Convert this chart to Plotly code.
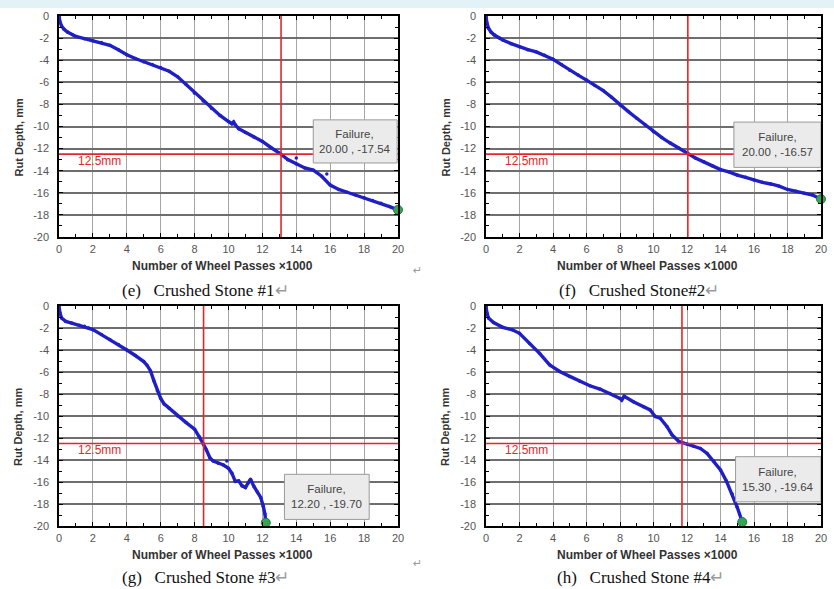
import plotly.graph_objects as go

# ---------------- data ----------------
x1 = [0, 0.05, 0.15, 0.3, 0.5, 0.8, 1, 1.5, 2, 2.5, 3, 3.5, 4, 4.5, 5, 5.5, 6, 6.5, 7, 7.5, 8, 8.5, 9, 9.5,
      10, 10.2, 10.3, 10.4, 10.6, 11, 11.5, 12, 12.5, 13, 13.5, 14, 14.5, 15, 15.5, 16, 16.5, 17, 17.5, 18,
      18.5, 19, 19.5, 20]
y1 = [0, -0.5, -0.9, -1.2, -1.45, -1.7, -1.85, -2.05, -2.23, -2.4, -2.65, -3.05, -3.5, -3.85, -4.13, -4.4,
      -4.65, -5.0, -5.5, -6.2, -7.0, -7.7, -8.36, -9.0, -9.55, -9.75, -9.6, -9.85, -10.2, -10.55, -10.95,
      -11.35, -11.9, -12.4, -13.0, -13.4, -13.75, -13.95, -14.5, -15.3, -15.7, -15.95, -16.2, -16.45, -16.7,
      -16.95, -17.25, -17.54]
out1_x = [14.0, 15.8]
out1_y = [-12.85, -14.3]

x2 = [0, 0.05, 0.15, 0.3, 0.5, 0.8, 1, 1.5, 2, 2.5, 3, 3.5, 4, 4.5, 5, 5.5, 6, 6.5, 7, 7.5, 8, 8.5, 9, 9.5,
      10, 10.5, 11, 11.5, 12, 12.5, 13, 13.5, 14, 14.5, 15, 15.5, 16, 16.5, 17, 17.5, 18, 18.5, 19, 19.5, 20]
y2 = [0, -0.6, -1.1, -1.45, -1.72, -2.0, -2.17, -2.5, -2.78, -3.05, -3.25, -3.55, -3.92, -4.4, -4.9, -5.35,
      -5.8, -6.3, -6.75, -7.35, -8.05, -8.65, -9.25, -9.85, -10.47, -11.0, -11.5, -11.95, -12.43, -12.85,
      -13.2, -13.55, -13.9, -14.1, -14.4, -14.6, -14.85, -15.05, -15.2, -15.4, -15.7, -15.85, -16.05, -16.2,
      -16.57]

x3 = [0, 0.05, 0.15, 0.4, 0.75, 1.2, 1.5, 1.75, 2, 2.5, 3, 3.5, 4, 4.5, 5, 5.2, 5.4, 5.6, 5.8, 6.0, 6.2, 6.5,
      7.0, 7.5, 8.0, 8.3, 8.5, 8.7, 8.9, 9.1, 9.4, 9.7, 10.0, 10.2, 10.4, 10.6, 10.8, 11.0, 11.15, 11.3,
      11.5, 11.7, 11.9, 12.05, 12.15, 12.2]
y3 = [0, -0.6, -1.1, -1.4, -1.55, -1.75, -1.85, -2.0, -2.15, -2.6, -3.05, -3.5, -4.0, -4.5, -5.05, -5.4, -5.9,
      -6.8, -7.7, -8.4, -8.9, -9.3, -10.0, -10.6, -11.2, -11.9, -12.5, -13.1, -13.8, -14.1, -14.3, -14.45,
      -14.75, -15.2, -15.95, -15.9, -16.35, -16.5, -16.1, -15.75, -16.4, -16.9, -17.4, -18.2, -18.9, -19.7]
out3_x = [9.9]
out3_y = [-14.1]

x4 = [0, 0.05, 0.15, 0.45, 1.0, 1.6, 2.0, 2.6, 3.2, 3.8, 4.4, 5.0, 5.6, 6.2, 6.8, 7.4, 8.0, 8.1, 8.25, 8.8,
      9.4, 9.8, 10.1, 10.4, 10.8, 11.1, 11.5, 12.0, 12.4, 12.8, 13.2, 13.6, 14.0, 14.35, 14.7, 15.0, 15.3]
y4 = [0, -0.6, -1.1, -1.5, -1.94, -2.18, -2.48, -3.4, -4.3, -5.35, -5.95, -6.4, -6.85, -7.25, -7.55, -7.95,
      -8.4, -8.55, -8.2, -8.7, -9.15, -9.45, -10.05, -10.2, -10.95, -11.7, -12.3, -12.55, -12.75, -12.95,
      -13.4, -14.1, -14.9, -15.9, -17.1, -18.3, -19.64]

failure_x = [20.00, 20.00, 12.20, 15.30]
failure_y = [-17.54, -16.57, -19.70, -19.64]
crossing_x = [13.1, 12.05, 8.53, 11.7]
threshold = -12.5
captions = ["(e)\u00a0\u00a0\u00a0Crushed Stone #1", "(f)\u00a0\u00a0\u00a0Crushed Stone#2",
            "(g)\u00a0\u00a0\u00a0Crushed Stone #3", "(h)\u00a0\u00a0\u00a0Crushed Stone #4"]
x_ticks = [0, 2, 4, 6, 8, 10, 12, 14, 16, 18, 20]
x_tick_labels = ["0", "2", "4", "6", "8", "10", "12", "14", "16", "18", "20"]
y_ticks = [0, -2, -4, -6, -8, -10, -12, -14, -16, -18, -20]
y_tick_labels = ["0", "-2", "-4", "-6", "-8", "-10", "-12", "-14", "-16", "-18", "-20"]
# failure label boxes in data units: x0, x1, y0, y1
boxes = [(15.0, 19.95, -13.3, -9.4), (14.8, 20.0, -13.7, -9.6), (13.3, 18.3, -19.4, -15.3),
         (14.9, 20.0, -17.8, -13.7)]

series = [(x1, y1), (x2, y2), (x3, y3), (x4, y4)]
outliers = [(out1_x, out1_y), ([], []), (out3_x, out3_y), ([], [])]

W, H = 834, 589
# plot areas in pixels (left, right, top, bottom)
areas = [(59, 398, 16, 237), (486, 821, 16, 237), (59, 398, 306, 526), (486, 821, 306, 526)]

BLUE = "#1f1fc4"
RED = "#e3262b"
GREEN = "#35a55a"
AX_FONT = "Arial, Liberation Sans, sans-serif"

fig = go.Figure()
layout = dict(width=W, height=H, margin=dict(l=0, r=0, t=0, b=0, autoexpand=False),
              paper_bgcolor="white", plot_bgcolor="white", showlegend=False)
shapes = []
annotations = []


def paper_note(px, py, text, font, **kw):
    d = dict(xref="paper", yref="paper", x=px / W, y=1 - py / H, text=text, showarrow=False,
             xanchor="center", yanchor="middle", font=font)
    d.update(kw)
    return d


# light blue band at top
shapes.append(dict(type="rect", xref="paper", yref="paper", x0=0, x1=1, y0=1 - 8 / H, y1=1,
                   fillcolor="#e3f2f7", line=dict(width=0), layer="below"))

for i, ((xs, ys), (ox, oy), (l, r, t, b)) in enumerate(zip(series, outliers, areas)):
    n = "" if i == 0 else str(i + 1)
    xa, ya = "x" + n, "y" + n
    layout["xaxis" + n] = dict(
        domain=[l / W, r / W], anchor=ya, range=[0, 20], tickvals=x_ticks, ticktext=x_tick_labels,
        automargin=False, showgrid=True, gridcolor="#a6a6a6", gridwidth=1, zeroline=False,
        showline=True, linecolor="black", linewidth=1.5, mirror="ticks",
        ticks="inside", ticklen=4, tickcolor="black",
        minor=dict(dtick=1, tick0=0, ticks="inside", ticklen=3, tickcolor="black", showgrid=False),
        tickfont=dict(family=AX_FONT, size=11, color="#555555"), ticklabelstandoff=1)
    layout["yaxis" + n] = dict(
        domain=[1 - b / H, 1 - t / H], anchor=xa, range=[-20, 0], tickvals=y_ticks, ticktext=y_tick_labels,
        automargin=False, showgrid=True, gridcolor="#6e6e6e", gridwidth=1.5, zeroline=False,
        showline=True, linecolor="black", linewidth=1.5, mirror="ticks",
        ticks="inside", ticklen=4, tickcolor="black",
        minor=dict(dtick=1, tick0=0, ticks="inside", ticklen=3, tickcolor="black", showgrid=False),
        tickfont=dict(family=AX_FONT, size=11, color="#555555"), ticklabelstandoff=6)

    # red reference lines
    shapes.append(dict(type="line", xref=xa, yref=ya, x0=0, x1=20, y0=threshold, y1=threshold,
                       line=dict(color=RED, width=1.6)))
    shapes.append(dict(type="line", xref=xa, yref=ya, x0=crossing_x[i], x1=crossing_x[i], y0=-20, y1=0,
                       line=dict(color=RED, width=1.6)))

    fig.add_trace(go.Scatter(x=xs, y=ys, xaxis=xa, yaxis=ya, mode="lines+markers",
                             line=dict(color=BLUE, width=3.4), marker=dict(color=BLUE, size=3.5),
                             hoverinfo="skip"))
    if ox:
        fig.add_trace(go.Scatter(x=ox, y=oy, xaxis=xa, yaxis=ya, mode="markers",
                                 marker=dict(color=BLUE, size=3.5), hoverinfo="skip"))
    fig.add_trace(go.Scatter(x=[failure_x[i]], y=[failure_y[i]], xaxis=xa, yaxis=ya, mode="markers",
                             marker=dict(color=GREEN, size=9, symbol="circle",
                                         line=dict(color="#1f7a3a", width=1)),
                             cliponaxis=False, hoverinfo="skip"))

    # failure box
    bx0, bx1, by0, by1 = boxes[i]
    shapes.append(dict(type="rect", xref=xa, yref=ya, x0=bx0, x1=bx1, y0=by0, y1=by1,
                       fillcolor="#ebebeb", line=dict(color="#9a9a9a", width=1)))
    annotations.append(dict(xref=xa, yref=ya, x=(bx0 + bx1) / 2, y=(by0 + by1) / 2,
                            xanchor="center", yanchor="middle",
                            text="Failure,<br>%.2f , %.2f" % (failure_x[i], failure_y[i]),
                            showarrow=False, align="center",
                            font=dict(family=AX_FONT, size=11.5, color="#444444")))
    # 12.5mm label
    annotations.append(dict(xref=xa, yref=ya, x=1.0, y=-13.1, xanchor="left", yanchor="middle",
                            text="12.5mm", showarrow=False,
                            font=dict(family=AX_FONT, size=12, color=RED)))

    # axis titles
    annotations.append(paper_note((l + r) / 2 - 6, b + 29, "<b>Number of Wheel Passes \u00d71000</b>",
                                  dict(family=AX_FONT, size=12, color="#333333")))
    annotations.append(paper_note(l - 41, (t + b) / 2 + 11, "<b>Rut Depth, mm</b>",
                                  dict(family=AX_FONT, size=11, color="#333333"), textangle=-90))

# captions
cap_pos = [(205, 290), (639, 290), (205, 577), (640, 577)]
for cap, (px, py) in zip(captions, cap_pos):
    annotations.append(paper_note(px, py, cap + "<span style='color:#9a9a9a'>\u21b5</span>",
                                  dict(family="Times New Roman, Liberation Serif, serif", size=17,
                                       color="#111111")))
for py in (270, 563):
    annotations.append(paper_note(417, py, "\u21b5", dict(family="DejaVu Sans", size=11, color="#9a9a9a")))

layout["shapes"] = shapes
layout["annotations"] = annotations
fig.update_layout(**layout)
fig.write_html("out.html", config={"displayModeBar": False},
               post_script="document.body.style.margin='0';document.body.style.overflow='hidden';")
